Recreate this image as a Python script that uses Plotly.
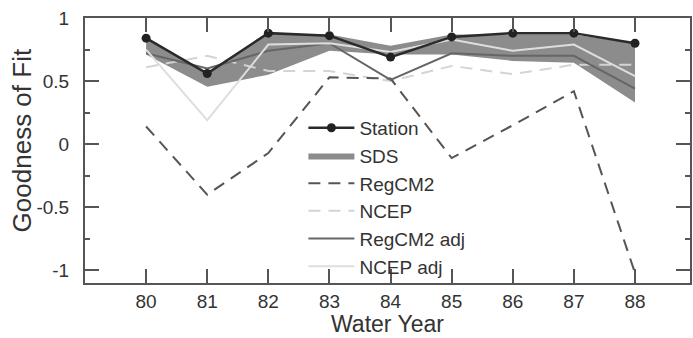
import plotly.graph_objects as go

years = [80, 81, 82, 83, 84, 85, 86, 87, 88]
station = [0.84, 0.56, 0.88, 0.86, 0.69, 0.85, 0.88, 0.88, 0.80]
sds_upper = [0.84, 0.57, 0.88, 0.87, 0.78, 0.87, 0.87, 0.87, 0.80]
sds_lower = [0.71, 0.455, 0.55, 0.74, 0.71, 0.71, 0.66, 0.645, 0.33]
regcm2 = [0.14, -0.40, -0.07, 0.53, 0.52, -0.11, 0.15, 0.42, -1.02]
ncep = [0.61, 0.70, 0.58, 0.58, 0.50, 0.62, 0.555, 0.63, 0.63]
regcm2_adj = [0.72, 0.60, 0.74, 0.80, 0.51, 0.72, 0.70, 0.70, 0.44]
ncep_adj = [0.75, 0.19, 0.79, 0.80, 0.73, 0.83, 0.74, 0.79, 0.54]

x_ticks = [80, 81, 82, 83, 84, 85, 86, 87, 88]
y_ticks = [-1, -0.5, 0, 0.5, 1]
y_labels = ["-1", "-0.5", "0", "0.5", "1"]

FONT = "Liberation Sans, Arial, sans-serif"
fig = go.Figure()

fig.add_trace(go.Scatter(x=years, y=sds_lower, mode="lines", line=dict(width=0),
                         showlegend=False, hoverinfo="skip"))
fig.add_trace(go.Scatter(x=years, y=sds_upper, mode="lines", line=dict(width=0, color="#8a8a8a"),
                         fill="tonexty", fillcolor="#8c8c8c", name="SDS",
                         legendrank=2, legendgroup="b"))
fig.add_trace(go.Scatter(x=years, y=ncep, mode="lines", name="NCEP",
                         line=dict(color="#d4d4d4", width=2, dash="12px,8px"),
                         legendrank=4, legendgroup="d"))
fig.add_trace(go.Scatter(x=years, y=regcm2, mode="lines", name="RegCM2",
                         line=dict(color="#555555", width=2, dash="12px,8px"),
                         legendrank=3, legendgroup="c"))
fig.add_trace(go.Scatter(x=years, y=regcm2_adj, mode="lines", name="RegCM2 adj",
                         line=dict(color="#666666", width=2),
                         legendrank=5, legendgroup="e"))
fig.add_trace(go.Scatter(x=years, y=ncep_adj, mode="lines", name="NCEP adj",
                         line=dict(color="#dedede", width=2),
                         legendrank=6, legendgroup="f"))
fig.add_trace(go.Scatter(x=years, y=station, mode="lines+markers", name="Station",
                         line=dict(color="#2a2a2a", width=2.5),
                         marker=dict(color="#222222", size=9),
                         legendrank=1, legendgroup="a"))

axis_common = dict(showline=True, linecolor="#555555", linewidth=2, mirror="ticks",
                   ticks="inside", ticklen=14, tickwidth=2, tickcolor="#555555",
                   showgrid=False, zeroline=False,
                   tickfont=dict(family=FONT, size=19, color="#333333"))

fig.update_xaxes(range=[79, 88.9], tickvals=x_ticks, ticktext=[str(v) for v in x_ticks],
                 ticklabelstandoff=0, **axis_common)
fig.update_yaxes(range=[-1.1, 1.0], tickvals=y_ticks, ticktext=y_labels,
                 minor=dict(ticks="inside", ticklen=5, tickwidth=2, tickcolor="#555555",
                            dtick=0.25, showgrid=False),
                 ticklabelstandoff=10, **axis_common)

# plot area: top 18, bottom 283 -> 265 px tall
fig.add_annotation(text="Water Year", xref="paper", yref="paper", x=0.5, y=-55 / 265,
                   yanchor="bottom", showarrow=False, borderpad=0,
                   font=dict(family=FONT, size=23, color="#333333"))
fig.add_annotation(text="Goodness of Fit", xref="paper", yref="paper", x=-0.105, y=0.54,
                   xanchor="center", yanchor="middle", textangle=-90, showarrow=False,
                   font=dict(family=FONT, size=26, color="#333333"))

fig.update_layout(
    width=693, height=338,
    margin=dict(l=85, r=1, t=18, b=55),
    paper_bgcolor="white", plot_bgcolor="white",
    legend=dict(x=0.361, y=0.657, xanchor="left", yanchor="top",
                bgcolor="rgba(0,0,0,0)", tracegroupgap=0, itemwidth=46,
                font=dict(family=FONT, size=19, color="#333333")),
)

fig.write_html("out.html")
